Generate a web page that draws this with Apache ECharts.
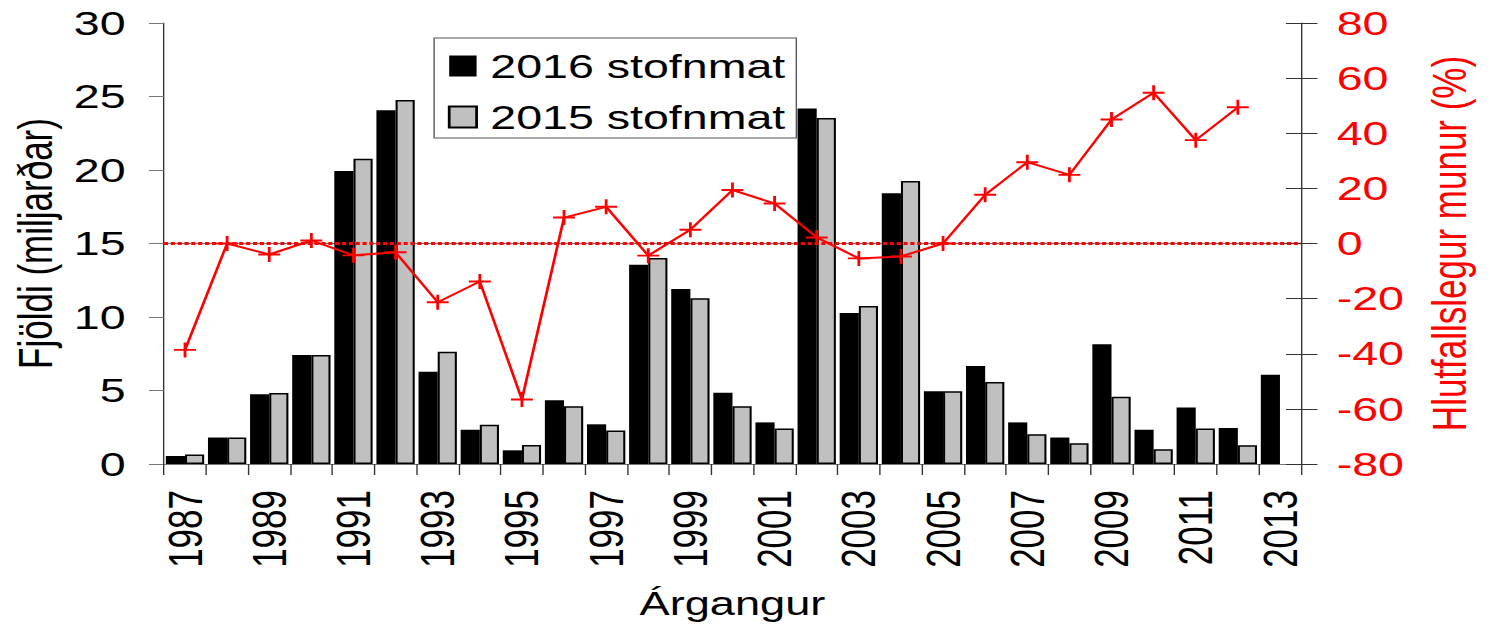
<!DOCTYPE html>
<html>
<head>
<meta charset="utf-8">
<script src="https://cdn.jsdelivr.net/npm/echarts@6/dist/echarts.min.js"></script>
<style>
html,body{margin:0;padding:0;background:#fff;overflow:hidden;}
#main{width:1088px;height:625px;transform:scaleX(1.3695);transform-origin:0 0;}
</style>
</head>
<body>
<div id="main"></div>
<script>
const years = ['1987','1988','1989','1990','1991','1992','1993','1994','1995','1996','1997','1998','1999','2000','2001','2002','2003','2004','2005','2006','2007','2008','2009','2010','2011','2012','2013'];
const stofnmat2016 = [0.55,1.8,4.75,7.42,19.93,24.07,6.28,2.33,0.93,4.34,2.7,13.55,11.9,4.84,2.83,24.18,10.28,18.42,4.95,6.66,2.83,1.8,8.15,2.33,3.84,2.45,6.07];
const stofnmat2015 = [0.65,1.8,4.83,7.42,20.77,24.77,7.64,2.67,1.3,3.93,2.28,14.01,11.28,3.93,2.42,23.53,10.74,19.26,4.95,5.58,2.03,1.41,4.57,1.0,2.42,1.28,null];
const munur = [-38.6,0,-4,1.1,-4.3,-3.2,-21.3,-13.8,-56.6,9.4,13.3,-4.4,5.0,19.4,14.5,2.2,-5.4,-4.7,0,17.7,29.5,24.9,45,54.7,37.5,49.4,null];
const leftTicks = {min:0, max:30, interval:5};
const rightTicks = {min:-80, max:80, interval:20};

const FONT = 'Liberation Sans';
const chart = echarts.init(document.getElementById('main'), null, {renderer:'svg'});
chart.setOption({
  animation:false,
  textStyle:{fontFamily:FONT},
  grid:{left:119,right:138,top:23,bottom:158},
  legend:{
    data:['2016 stofnmat','2015 stofnmat'],
    orient:'vertical', left:317, top:38,
    padding:[11,8,4,10], itemGap:17, itemWidth:20, itemHeight:21,
    icon:'rect',
    borderColor:'#555', borderWidth:1, backgroundColor:'#fff',
    textStyle:{fontSize:34, fontFamily:FONT, color:'#000', padding:[0,0,0,5]}
  },
  xAxis:[{
    type:'category', data:years, boundaryGap:true,
    axisLine:{lineStyle:{color:'#777',width:1}},
    axisTick:{show:true, interval:0, length:11, lineStyle:{color:'#333'}},
    axisLabel:{interval:1, rotate:90, fontSize:35, margin:26, color:'#000', fontFamily:FONT},
    name:'Árgangur', nameLocation:'middle', nameGap:123,
    nameTextStyle:{fontSize:33, color:'#000', fontFamily:FONT},
    splitLine:{show:false}
  },{
    type:'category', data:years, position:'top',
    axisLine:{show:true, lineStyle:{color:'#777',width:1}},
    axisTick:{show:false}, axisLabel:{show:false}, splitLine:{show:false}
  }],
  yAxis:[{
    type:'value', position:'left', min:leftTicks.min, max:leftTicks.max, interval:leftTicks.interval,
    axisLine:{show:true, lineStyle:{color:'#333',width:1}},
    axisTick:{show:true, length:11, lineStyle:{color:'#777'}},
    axisLabel:{fontSize:34, margin:28, color:'#000', fontFamily:FONT},
    splitLine:{show:false},
    name:'Fjöldi (miljarðar)', nameLocation:'middle', nameGap:72, nameRotate:90,
    nameTextStyle:{fontSize:35, color:'#000', fontFamily:FONT}
  },{
    type:'value', position:'right', min:rightTicks.min, max:rightTicks.max, interval:rightTicks.interval,
    axisLine:{show:true, lineStyle:{color:'#333',width:1}},
    axisTick:{show:true, length:12, lineStyle:{color:'#333'}},
    axisLabel:{fontSize:34, margin:26, color:'#ff0000', fontFamily:FONT},
    splitLine:{show:false},
    name:'Hlutfallslegur munur (%)', nameLocation:'middle', nameGap:91, nameRotate:90,
    nameTextStyle:{fontSize:35, color:'#ff0000', fontFamily:FONT}
  },{
    type:'value', position:'right', min:rightTicks.min, max:rightTicks.max, interval:rightTicks.interval,
    axisLine:{show:false},
    axisTick:{show:true, inside:true, length:11, lineStyle:{color:'#333'}},
    axisLabel:{show:false}, splitLine:{show:false}
  }],
  series:[{
    name:'2016 stofnmat', type:'bar', data:stofnmat2016,
    barGap:'0%', barCategoryGap:'9%',
    itemStyle:{color:'#000'}
  },{
    name:'2015 stofnmat', type:'bar', data:stofnmat2015,
    itemStyle:{color:'#c0c0c0', borderColor:'#000', borderWidth:1.5}
  },{
    name:'munur', type:'line', yAxisIndex:1, data:munur,
    lineStyle:{color:'#ff0000', width:2},
    symbol:'path://M0,50L100,50M50,0L50,100', symbolSize:[16,15],
    itemStyle:{color:'#ff0000', borderColor:'#ff0000', borderWidth:2},
    connectNulls:false, z:5,
    markLine:{
      silent:true, symbol:'none', label:{show:false},
      lineStyle:{color:'#ff0000', type:[3,2], width:3},
      data:[{yAxis:0}]
    }
  }]
});
</script>
</body>
</html>
